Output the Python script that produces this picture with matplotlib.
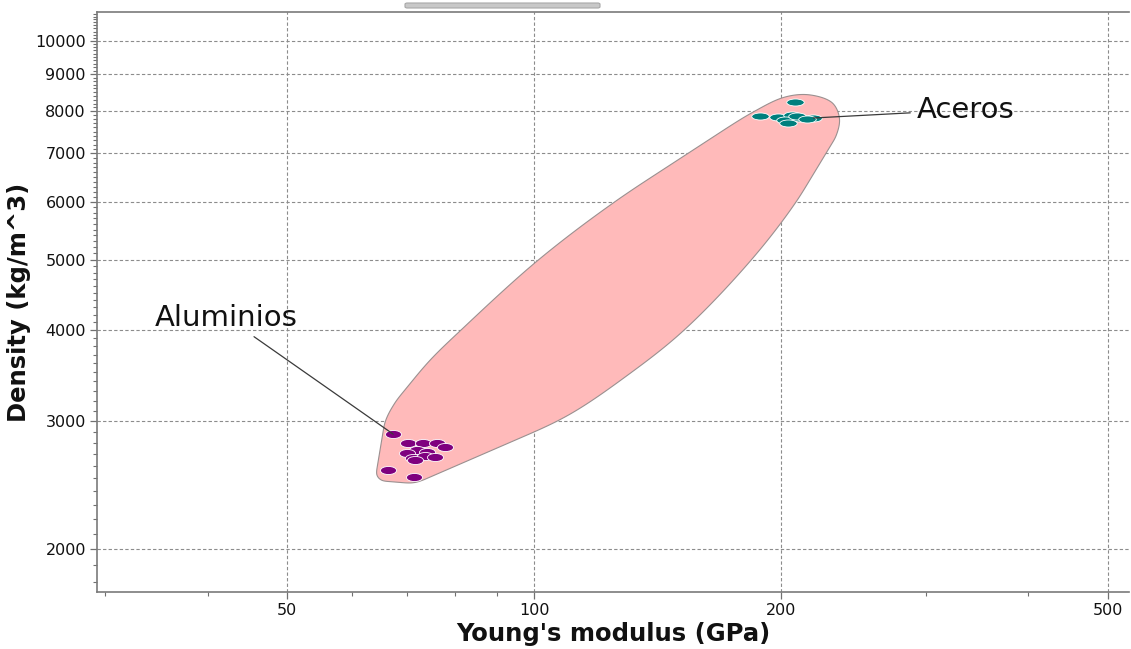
import numpy as np
import matplotlib
matplotlib.use("Agg")
import matplotlib.pyplot as plt
from matplotlib.path import Path
from matplotlib.transforms import Affine2D
from matplotlib.patches import Polygon, FancyBboxPatch
from matplotlib.ticker import FixedLocator, FixedFormatter, NullFormatter

# ---- data -------------------------------------------------------------
# Aluminium alloys: Young's modulus (GPa), density (kg/m^3)
al_modulus = [67.3, 66.4, 71.4, 70.2, 73.2, 76.1, 77.9, 72.0, 74.0, 70.0,
              71.2, 73.6, 75.7, 71.6]
al_density = [2877, 2570, 2512, 2798, 2798, 2798, 2762, 2737, 2719, 2711,
              2668, 2685, 2676, 2651]

# Steels
st_modulus = [208.0, 188.7, 198.4, 206.4, 202.3, 211.0, 218.9, 204.0, 209.3, 215.2]
st_density = [8241, 7882, 7856, 7908, 7783, 7832, 7832, 7708, 7882, 7807]

# Family envelope enclosing both groups: outline control points, starting at
# the lower-left corner, up the left side, over the top and back along the
# lower-right side
env_modulus = [64.3, 64.5, 65.1, 65.8, 67.5, 70.2, 74.7, 81.2, 100.8, 124.8,
               153.7, 184.9, 202.3, 217.0, 230.9, 235.5, 233.5, 225.8, 208.1,
               183.4, 151.9, 129.1, 110.6, 96.1, 81.9, 73.2, 71.0, 67.7, 65.1]
env_density = [2528, 2634, 2780, 2990, 3166, 3352, 3640, 3990, 4979, 5984,
               6988, 7982, 8371, 8425, 8214, 7832, 7420, 6966, 5984,
               4979, 3990, 3449, 3066, 2842, 2651, 2488, 2466, 2473, 2488]

x_ticks = [50, 100, 200, 500]
x_minor = [30, 40, 60, 70, 80, 90, 300, 400]
y_ticks = [2000, 3000, 4000, 5000, 6000, 7000, 8000, 9000, 10000]

labels = {"Aceros": ((218.9, 7832), (293, 8036)),
          "Aluminios": ((67.3, 2877), (34.5, 4163))}

# ---- figure -----------------------------------------------------------
W, H = 1131, 649
fig = plt.figure(figsize=(W / 100, H / 100), dpi=100)
ax = fig.add_axes([97 / W, 1 - 592 / H, (1129 - 97) / W, (592 - 12) / H])
ax.set_xscale("log")
ax.set_yscale("log")
ax.set_xlim(29.3, 531)
ax.set_ylim(1745, 10957)


def catmull_rom_closed(pts, per_seg=24, alpha=0.5):
    """Closed centripetal Catmull-Rom curve through the control points."""
    n = len(pts)
    out = []
    for i in range(n):
        p0, p1, p2, p3 = (pts[(i + k) % n] for k in (-1, 0, 1, 2))
        t0 = 0.0
        t1 = t0 + np.linalg.norm(p1 - p0) ** alpha
        t2 = t1 + np.linalg.norm(p2 - p1) ** alpha
        t3 = t2 + np.linalg.norm(p3 - p2) ** alpha
        for t in np.linspace(t1, t2, per_seg, endpoint=False):
            a1 = (t1 - t) / (t1 - t0) * p0 + (t - t0) / (t1 - t0) * p1
            a2 = (t2 - t) / (t2 - t1) * p1 + (t - t1) / (t2 - t1) * p2
            a3 = (t3 - t) / (t3 - t2) * p2 + (t - t2) / (t3 - t2) * p3
            b1 = (t2 - t) / (t2 - t0) * a1 + (t - t0) / (t2 - t0) * a2
            b2 = (t3 - t) / (t3 - t1) * a2 + (t - t1) / (t3 - t1) * a3
            out.append((t2 - t) / (t2 - t1) * b1 + (t - t1) / (t2 - t1) * b2)
    return np.array(out)


def hull(pts):
    """Convex hull (monotone chain) of 2-D points."""
    pts = sorted(map(tuple, pts))

    def cross(o, a, b):
        return (a[0] - o[0]) * (b[1] - o[1]) - (a[1] - o[1]) * (b[0] - o[0])

    lower, upper = [], []
    for p in pts:
        while len(lower) >= 2 and cross(lower[-2], lower[-1], p) <= 0:
            lower.pop()
        lower.append(p)
    for p in reversed(pts):
        while len(upper) >= 2 and cross(upper[-2], upper[-1], p) <= 0:
            upper.pop()
        upper.append(p)
    return np.array(lower[:-1] + upper[:-1])


# the curve is built in log space, scaled to roughly equal units per axis
sx, sy = 820.0, 727.0
ctrl = np.column_stack([np.log10(env_modulus) * sx, np.log10(env_density) * sy])
curve = hull(catmull_rom_closed(ctrl))
outline = np.column_stack([10 ** (curve[:, 0] / sx), 10 ** (curve[:, 1] / sy)])
ax.add_patch(Polygon(outline, closed=True, facecolor="#ffbaba",
                     edgecolor="#9a9090", linewidth=0.8, zorder=2))

ell_al = Path.unit_circle().transformed(Affine2D().scale(1.0, 0.5))
ell_st = Path.unit_circle().transformed(Affine2D().scale(1.0, 0.4))

ax.scatter(al_modulus, al_density, s=135, marker=ell_al, facecolor="#7f007f",
           edgecolor="white", linewidths=0.6, zorder=4)
ax.scatter(st_modulus, st_density, s=160, marker=ell_st, facecolor="#007f7d",
           edgecolor="white", linewidths=0.6, zorder=4)

for text, (xy, xytext) in labels.items():
    ax.annotate(text, xy=xy, xytext=xytext, ha="left", va="center",
                fontsize=21, color="#111111", zorder=5,
                arrowprops=dict(arrowstyle="-", color="#3a3a3a", lw=0.9,
                                shrinkA=3, shrinkB=0))

# ---- axes styling -----------------------------------------------------
ax.xaxis.set_major_locator(FixedLocator(x_ticks))
ax.xaxis.set_major_formatter(FixedFormatter([str(v) for v in x_ticks]))
ax.xaxis.set_minor_locator(FixedLocator(x_minor))
ax.xaxis.set_minor_formatter(NullFormatter())

y_minor = [v for v in range(1800, 11000, 100) if v not in y_ticks]
ax.yaxis.set_major_locator(FixedLocator(y_ticks))
ax.yaxis.set_major_formatter(FixedFormatter([str(v) for v in y_ticks]))
ax.yaxis.set_minor_locator(FixedLocator(y_minor))
ax.yaxis.set_minor_formatter(NullFormatter())

ax.tick_params(which="major", length=5, width=0.9, color="#707070",
               labelsize=11.5, labelcolor="#111111", pad=3)
ax.tick_params(which="minor", length=3, width=0.8, color="#707070")

ax.grid(True, which="major", color="#8c8c8c", linestyle=(0, (3, 2)),
        linewidth=0.8, zorder=1)
ax.set_axisbelow(True)

for side in ("left", "bottom", "top"):
    ax.spines[side].set_color("#7a7a7a")
    ax.spines[side].set_linewidth(1.2)
ax.spines["right"].set_visible(False)

ax.set_xlabel("Young's modulus (GPa)", fontsize=17.5, fontweight="bold",
              color="#111111", labelpad=3)
ax.set_ylabel("Density (kg/m^3)", fontsize=17.5, fontweight="bold",
              color="#111111", labelpad=3)

# small tab above the plot frame
tab = FancyBboxPatch((405 / W, 1 - 8 / H), 195 / W, 5 / H,
                     boxstyle="round,pad=0,rounding_size=0.002",
                     transform=fig.transFigure, facecolor="#c8c8c8",
                     edgecolor="#a8a8a8", linewidth=0.8)
fig.patches.append(tab)

fig.savefig("out.png", dpi=100)
